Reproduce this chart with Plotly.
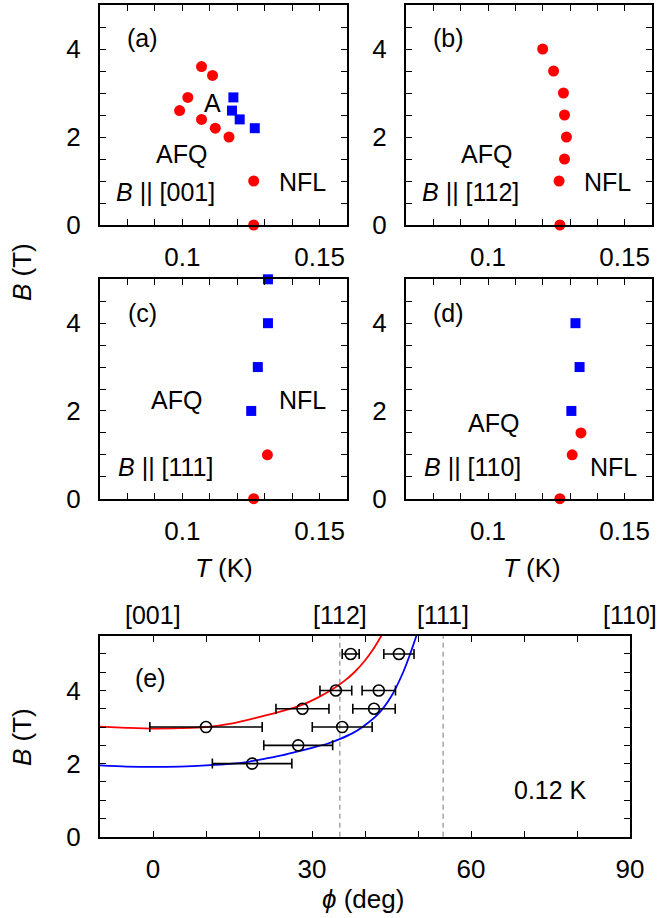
import plotly.graph_objects as go

W, H = 658, 918

# ---------------- data ----------------
# panel (a)  B || [001]
a_red_T = [0.107, 0.111, 0.102, 0.099, 0.107, 0.112, 0.117, 0.126, 0.126]
a_red_B = [3.6, 3.4, 2.9, 2.6, 2.4, 2.2, 2.0, 1.0, 0.0]
a_blue_T = [0.1186, 0.1181, 0.1209, 0.1264]
a_blue_B = [2.9, 2.6, 2.4, 2.2]
# panel (b)  B || [112]
b_red_T = [0.120, 0.124, 0.1276, 0.128, 0.1287, 0.128, 0.126, 0.1263]
b_red_B = [4.0, 3.5, 3.0, 2.5, 2.0, 1.5, 1.0, 0.0]
b_blue_T = []
b_blue_B = []
# panel (c)  B || [111]
c_red_T = [0.131, 0.126]
c_red_B = [1.0, 0.0]
c_blue_T = [0.1312, 0.1312, 0.1275, 0.1251]
c_blue_B = [5.0, 4.0, 3.0, 2.0]
# panel (d)  B || [110]
d_red_T = [0.134, 0.1308, 0.1263]
d_red_B = [1.5, 1.0, 0.0]
d_blue_T = [0.132, 0.1335, 0.1305]
d_blue_B = [4.0, 3.0, 2.0]

# panel (e) points with horizontal error bars
e_phi = [10.0, 18.7, 27.4, 28.2, 34.5, 35.7, 37.3, 46.4, 42.6, 41.7]
e_B = [3.0, 2.0, 2.5, 3.5, 4.0, 3.0, 5.0, 5.0, 4.0, 3.5]
e_err = [10.6, 7.5, 6.5, 5.0, 3.0, 5.65, 1.6, 2.85, 3.15, 4.0]
# curves
red_phi = [-10, -5, 0, 5, 10, 15, 20, 24.5, 28, 31, 34, 36, 38, 40, 41.5, 43.1]
red_B = [3.01, 2.98, 2.96, 2.97, 3.0, 3.1, 3.27, 3.44, 3.6, 3.8, 4.05, 4.25, 4.5, 4.82, 5.12, 5.5]
blue_phi = [-10, -5, 0, 5, 10, 15, 18, 21, 24.5, 27, 30, 33, 35.2, 37.5, 39.6, 42.5, 45.0, 47.2, 48.4, 49.7]
blue_B = [1.95, 1.92, 1.91, 1.92, 1.95, 2.0, 2.05, 2.13, 2.23, 2.32, 2.43, 2.55, 2.67, 2.82, 3.01, 3.36, 3.85, 4.5, 4.95, 5.5]
direction_angles = [0, 35.26, 54.74, 90]
direction_labels = ["[001]", "[112]", "[111]", "[110]"]
dashed_angles = [35.26, 54.74]

T_ticks = [0.08, 0.09, 0.10, 0.11, 0.12, 0.13, 0.14, 0.15]
T_ticktext = ["", "", "0.1", "", "", "", "", "0.15"]
B_ticks = [0, 0.5, 1, 1.5, 2, 2.5, 3, 3.5, 4, 4.5, 5]
B_ticktext = ["0", "", "", "", "2", "", "", "", "4", "", ""]
Be_ticks = [0, 0.5, 1, 1.5, 2, 2.5, 3, 3.5, 4, 4.5, 5, 5.5]
Be_ticktext = ["0", "", "", "", "2", "", "", "", "4", "", "", ""]
phi_ticks = [-10, 0, 10, 20, 30, 40, 50, 60, 70, 80, 90]
phi_ticktext = ["", "0", "", "", "30", "", "", "60", "", "", "90"]

FONT = "Liberation Sans, Arial, Helvetica, sans-serif"
RED = "#ff0000"
BLUE = "#0000ff"
TICKSIZE = 26
TXTSIZE = 25

def px_x(p):
    return p / W

def px_y(p):
    return 1 - p / H

fig = go.Figure()

panels = [
    ("x", "y", a_red_T, a_red_B, a_blue_T, a_blue_B),
    ("x2", "y2", b_red_T, b_red_B, b_blue_T, b_blue_B),
    ("x3", "y3", c_red_T, c_red_B, c_blue_T, c_blue_B),
    ("x4", "y4", d_red_T, d_red_B, d_blue_T, d_blue_B),
]
for xa, ya, rT, rB, bT, bB in panels:
    fig.add_trace(go.Scatter(x=rT, y=rB, xaxis=xa, yaxis=ya, mode="markers",
                             marker=dict(symbol="circle", size=11, color=RED),
                             cliponaxis=False, showlegend=False))
    if bT:
        fig.add_trace(go.Scatter(x=bT, y=bB, xaxis=xa, yaxis=ya, mode="markers",
                                 marker=dict(symbol="square", size=10, color=BLUE),
                                 cliponaxis=False, showlegend=False))

# panel (e)
fig.add_trace(go.Scatter(x=red_phi, y=red_B, xaxis="x5", yaxis="y5", mode="lines",
                         line=dict(color=RED, width=1.8, shape="spline", smoothing=0.8),
                         showlegend=False))
fig.add_trace(go.Scatter(x=blue_phi, y=blue_B, xaxis="x5", yaxis="y5", mode="lines",
                         line=dict(color=BLUE, width=1.8, shape="spline", smoothing=0.8),
                         showlegend=False))
fig.add_trace(go.Scatter(x=e_phi, y=e_B, xaxis="x5", yaxis="y5", mode="markers",
                         marker=dict(symbol="circle-open", size=11, color="black",
                                     line=dict(width=1.6, color="black")),
                         error_x=dict(type="data", array=e_err, visible=True,
                                      color="black", thickness=1.6, width=5),
                         showlegend=False))

for ang in dashed_angles:
    fig.add_shape(type="line", xref="x5", yref="y5 domain", x0=ang, x1=ang, y0=0, y1=1,
                  line=dict(color="#777777", width=1, dash="5px,4px"), layer="below")

axis_common = dict(showline=True, linewidth=2, linecolor="black", mirror="ticks",
                   ticks="inside", ticklen=6, tickwidth=1, tickcolor="black",
                   showgrid=False, zeroline=False, automargin=False,
                   tickfont=dict(family=FONT, size=TICKSIZE, color="black"))

# domains from pixel positions
xa_left = [px_x(100), px_x(347)]
xa_right = [px_x(406), px_x(652)]
ya_top = [px_y(225), px_y(5)]
ya_mid = [px_y(498.7), px_y(279.3)]
xe = [px_x(100), px_x(630)]
ye = [px_y(836.7), px_y(635.7)]

def taxis(dom, anchor):
    d = dict(axis_common)
    d.update(domain=dom, anchor=anchor, range=[0.07, 0.16], tickmode="array",
             tickvals=T_ticks, ticktext=T_ticktext, ticklabelstandoff=8)
    return d

def baxis(dom, anchor):
    d = dict(axis_common)
    d.update(domain=dom, anchor=anchor, range=[0, 5], tickmode="array",
             tickvals=B_ticks, ticktext=B_ticktext, ticklabelstandoff=12)
    return d

ex = dict(axis_common)
ex.update(domain=xe, anchor="y5", range=[-10, 90], tickmode="array",
          tickvals=phi_ticks, ticktext=phi_ticktext, ticklabelstandoff=8)
ey = dict(axis_common)
ey.update(domain=ye, anchor="x5", range=[0, 5.5], tickmode="array",
          tickvals=Be_ticks, ticktext=Be_ticktext, ticklabelstandoff=12)

fig.update_layout(
    template="none",
    width=W, height=H, margin=dict(l=0, r=0, t=0, b=0, autoexpand=False),
    plot_bgcolor="white", paper_bgcolor="white",
    font=dict(family=FONT, size=TXTSIZE, color="black"),
    xaxis=taxis(xa_left, "y"), yaxis=baxis(ya_top, "x"),
    xaxis2=taxis(xa_right, "y2"), yaxis2=baxis(ya_top, "x2"),
    xaxis3=taxis(xa_left, "y3"), yaxis3=baxis(ya_mid, "x3"),
    xaxis4=taxis(xa_right, "y4"), yaxis4=baxis(ya_mid, "x4"),
    xaxis5=ex, yaxis5=ey,
    hovermode=False,
)

ann = []
def txt(x, y, s, size=TXTSIZE, angle=0):
    ann.append(dict(x=px_x(x), y=px_y(y), xref="paper", yref="paper", text=s,
                    showarrow=False, xanchor="center", yanchor="middle",
                    textangle=angle, font=dict(family=FONT, size=size, color="black")))

# panel (a)
txt(142, 38, "(a)")
txt(212, 103, "A")
txt(181, 154, "AFQ")
txt(165, 192, "<i>B</i> || [001]")
txt(302, 182, "NFL")
# panel (b)
txt(448, 38, "(b)")
txt(487, 154, "AFQ")
txt(471, 192, "<i>B</i> || [112]")
txt(607, 182, "NFL")
# panel (c)
txt(142, 313, "(c)")
txt(176, 400, "AFQ")
txt(302, 400, "NFL")
txt(165, 467, "<i>B</i> || [111]")
# panel (d)
txt(448, 313, "(d)")
txt(493, 423, "AFQ")
txt(472, 467, "<i>B</i> || [110]")
txt(613, 467, "NFL")
# panel (e)
txt(150, 678, "(e)")
txt(550, 790, "0.12 K")

# axis titles
txt(22, 272, "<i>B</i> (T)", size=TICKSIZE, angle=-90)
txt(224, 568, "<i>T</i> (K)", size=TICKSIZE)
txt(532, 568, "<i>T</i> (K)", size=TICKSIZE)
txt(22, 737, "<i>B</i> (T)", size=TICKSIZE, angle=-90)
txt(363, 899, "<i>ϕ</i> (deg)", size=TICKSIZE)

# direction labels above panel (e)
for ang, lab in zip(direction_angles, direction_labels):
    ann.append(dict(x=ang, y=px_y(615), xref="x5", yref="paper", text=lab, showarrow=False,
                    xanchor="center", yanchor="middle",
                    font=dict(family=FONT, size=TXTSIZE, color="black")))

fig.update_layout(annotations=ann)
fig.write_html("out.html", config={"displayModeBar": False, "staticPlot": True},
               post_script="document.body.style.margin='0';document.body.style.padding='0';"
                           "document.documentElement.style.overflow='hidden';")
